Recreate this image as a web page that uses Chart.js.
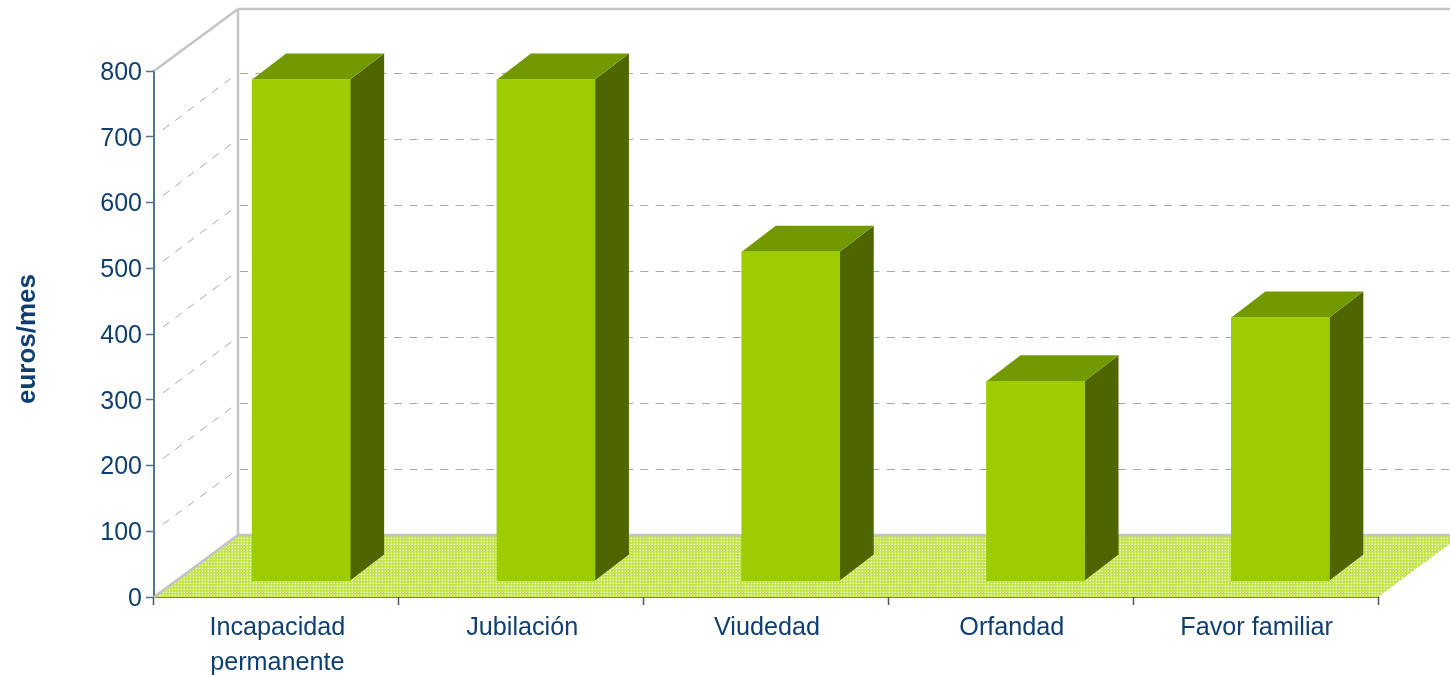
<!DOCTYPE html>
<html>
<head>
<meta charset="utf-8">
<style>
  html, body { margin: 0; padding: 0; background: #fff; overflow: hidden; }
  canvas { display: block; }
</style>
<script src="https://cdn.jsdelivr.net/npm/chart.js@4"></script>
</head>
<body>
<canvas id="chart" width="1450" height="675"></canvas>
<script>
// datos
const categories = [["Incapacidad", "permanente"], "Jubilación", "Viudedad", "Orfandad", "Favor familiar"];
const pensions = [762, 762, 500, 303, 400];
const gridValues = [100, 200, 300, 400, 500, 600, 700];

const navy = "#0f3f70";
const wallGray = "#c4c4c4";
const dashGray = "#a8a8a8";

// profundidad de la caja y de las barras
const wallDepth = { x: 84, y: -62 };
const barDepth = { x: 34, y: -26 };

function floorPattern(ctx) {
  const c = document.createElement("canvas");
  c.width = 3;
  c.height = 3;
  const p = c.getContext("2d");
  p.fillStyle = "#c4e44e";
  p.fillRect(0, 0, 3, 3);
  p.fillStyle = "#f2fad2";
  p.fillRect(1, 1, 1, 1);
  p.fillStyle = "#d4ec80";
  p.fillRect(0, 1, 1, 1);
  p.fillRect(1, 0, 1, 1);
  return ctx.createPattern(c, "repeat");
}

function line(ctx, x1, y1, x2, y2) {
  ctx.beginPath();
  ctx.moveTo(x1, y1);
  ctx.lineTo(x2, y2);
  ctx.stroke();
}

function poly(ctx, pts, color) {
  ctx.fillStyle = color;
  ctx.beginPath();
  pts.forEach((p, i) => (i ? ctx.lineTo(p[0], p[1]) : ctx.moveTo(p[0], p[1])));
  ctx.closePath();
  ctx.fill();
}

// paredes, suelo y rejilla
const box3d = {
  id: "box3d",
  beforeDatasetsDraw(chart) {
    const { ctx, scales } = chart;
    const left = chart.chartArea.left;
    const right = chart.chartArea.right;
    const y0 = scales.y.getPixelForValue(0);
    const yTop = scales.y.getPixelForValue(800);
    const dx = wallDepth.x;
    const dy = wallDepth.y;

    ctx.save();
    ctx.lineWidth = 1;
    ctx.strokeStyle = dashGray;
    ctx.setLineDash([8, 7.4]);
    gridValues.forEach((v) => {
      const y = scales.yBack.getPixelForValue(v);
      line(ctx, left + dx + 2, Math.round(y) + 0.5, right + dx, Math.round(y) + 0.5);
      // diagonal de la pared lateral
      const yf = scales.y.getPixelForValue(v);
      line(ctx, left + 9, yf - 7, left + dx - 4, y + 3);
    });
    ctx.setLineDash([]);

    poly(ctx, [[left, y0], [left + dx, y0 + dy], [right + dx, y0 + dy], [right, y0]], floorPattern(ctx));

    ctx.lineWidth = 2.5;
    ctx.strokeStyle = wallGray;
    line(ctx, left, yTop, left + dx, yTop + dy);
    line(ctx, left + dx, yTop + dy, left + dx, y0 + dy);
    line(ctx, left + dx, yTop + dy, right + dx, yTop + dy);
    line(ctx, left, y0, left + dx, y0 + dy);
    line(ctx, left + dx, y0 + dy, right + dx, y0 + dy);

    // caras lateral y superior de cada barra
    chart.getDatasetMeta(0).data.forEach((bar) => {
      const l = bar.x - bar.width / 2;
      const r = bar.x + bar.width / 2;
      const t = bar.y;
      const b = bar.base;
      const ox = barDepth.x;
      const oy = barDepth.y;
      poly(ctx, [[r, t], [r + ox, t + oy], [r + ox, b + oy], [r, b]], "#4f6600");
      poly(ctx, [[l, t], [l + ox, t + oy], [r + ox, t + oy], [r, t]], "#739900");
    });
    ctx.restore();
  },
  afterDraw(chart) {
    const { ctx } = chart;
    ctx.save();
    ctx.translate(28, 339);
    ctx.rotate(-Math.PI / 2);
    ctx.font = "bold 26px 'Liberation Sans'";
    ctx.fillStyle = navy;
    ctx.textAlign = "center";
    ctx.textBaseline = "middle";
    ctx.fillText("euros/mes", 0, 0);
    ctx.restore();
  },
};

new Chart(document.getElementById("chart"), {
  type: "bar",
  data: {
    labels: categories,
    datasets: [
      {
        data: pensions.map((v, i) => ({ x: i, y: v })),
        backgroundColor: "#9dcd00",
        barThickness: 98,
        xAxisID: "xBar",
        yAxisID: "yBar",
      },
    ],
  },
  options: {
    responsive: false,
    animation: false,
    layout: { padding: { top: 71, right: 72, bottom: 0, left: 0 } },
    plugins: { legend: { display: false }, tooltip: { enabled: false } },
    scales: {
      x: {
        type: "category",
        offset: true,
        afterFit: (s) => { s.height = 78; },
        border: { color: "#000000", width: 1.5 },
        grid: { offset: true, drawOnChartArea: false, drawTicks: true, tickLength: 8, tickColor: "#555555", tickWidth: 1.5 },
        ticks: {
          color: navy,
          padding: 6,
          labelOffset: 1,
          maxRotation: 0,
          autoSkip: false,
          font: { family: "'Liberation Sans'", size: 25.2, lineHeight: 1.37 },
        },
      },
      y: {
        type: "linear",
        min: 0,
        max: 800,
        afterFit: (s) => { s.width = 154; },
        border: { color: "#4f7396", width: 2 },
        grid: { drawOnChartArea: false, drawTicks: true, tickLength: 8, tickColor: "#4f7396", tickWidth: 1.5 },
        ticks: {
          stepSize: 100,
          color: navy,
          padding: 4,
          labelOffset: 2,
          font: { family: "'Liberation Sans'", size: 25 },
        },
      },
      // ejes ocultos: barras desplazadas hacia el fondo, y rejilla de la pared trasera
      xBar: { type: "linear", display: false, offset: false, min: -0.601, max: 4.399 },
      yBar: { type: "linear", display: false, min: -25, max: 775 },
      yBack: { type: "linear", display: false, min: -94, max: 703 },
    },
  },
  plugins: [box3d],
});
</script>
</body>
</html>
